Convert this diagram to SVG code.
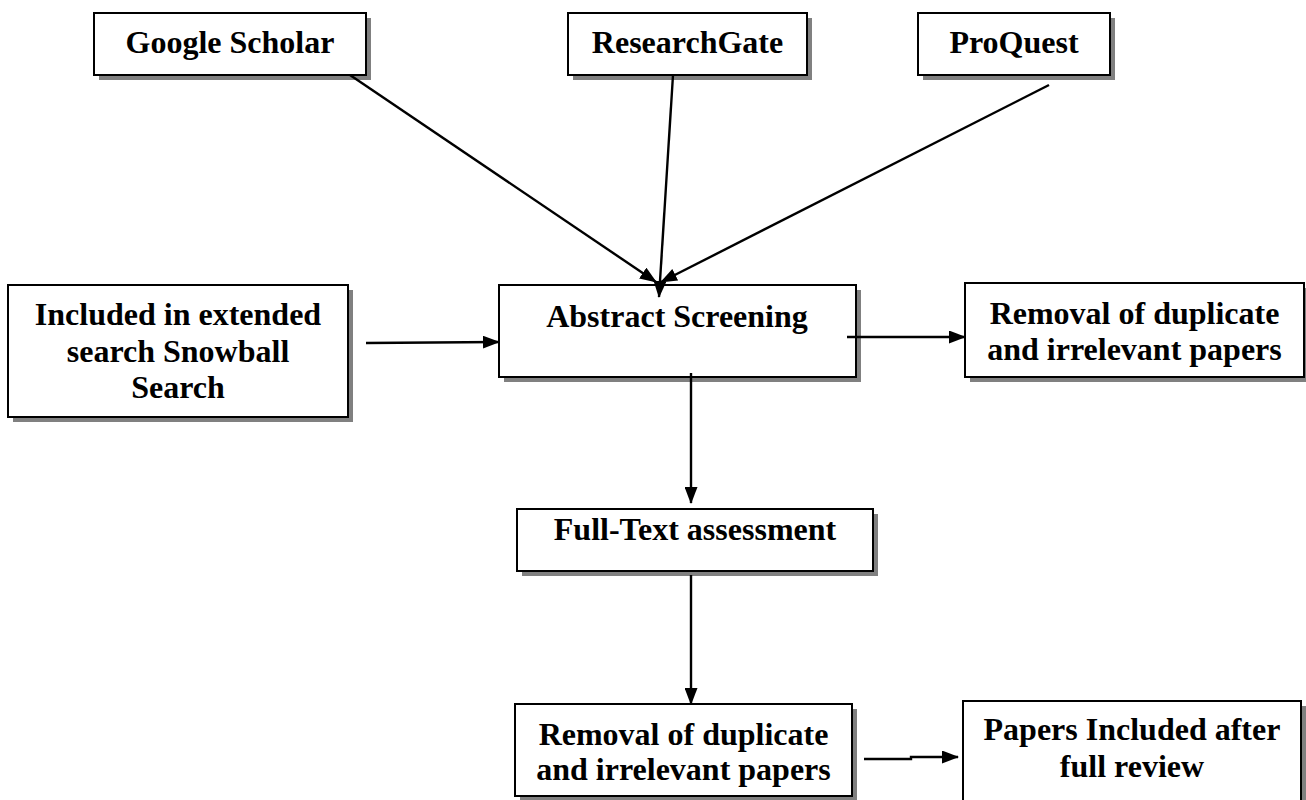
<svg xmlns="http://www.w3.org/2000/svg" width="1306" height="800" viewBox="0 0 1306 800">
<defs>
<style>
.box{fill:#fff;stroke:#000;stroke-width:2}
.sh{fill:#808080}
.t{font-family:"Liberation Serif","Times New Roman",serif;font-weight:bold;font-size:32px;fill:#000;text-anchor:middle}
.c{stroke:#000;stroke-width:2.4;fill:none}
</style>
<marker id="ah" markerUnits="userSpaceOnUse" markerWidth="17" markerHeight="13" refX="16" refY="6.5" orient="auto">
<path d="M0,0 L17,6.5 L0,13 z" fill="#000"/>
</marker>
</defs>
<rect width="1306" height="800" fill="#fff"/>

<g id="google-scholar">
<rect class="sh" x="99" y="18" width="272" height="62"/>
<rect class="box" x="94" y="13" width="272" height="62"/>
<text class="t" x="230" y="53">Google Scholar</text>
</g>
<g id="researchgate">
<rect class="sh" x="573" y="18" width="239" height="62"/>
<rect class="box" x="568" y="13" width="239" height="62"/>
<text class="t" x="687.5" y="53">ResearchGate</text>
</g>
<g id="proquest">
<rect class="sh" x="923" y="18" width="192" height="62"/>
<rect class="box" x="918" y="13" width="192" height="62"/>
<text class="t" x="1014" y="53">ProQuest</text>
</g>
<g id="snowball">
<rect class="sh" x="13" y="290" width="340" height="132"/>
<rect class="box" x="8" y="285" width="340" height="132"/>
<text class="t" x="178" y="325">Included in extended</text>
<text class="t" x="178" y="362">search Snowball</text>
<text class="t" x="178" y="398">Search</text>
</g>
<g id="abstract-screening">
<rect class="sh" x="504" y="290" width="357" height="92"/>
<rect class="box" x="499" y="285" width="357" height="92"/>
<text class="t" x="677" y="327">Abstract Screening</text>
</g>
<g id="removal-1">
<rect class="sh" x="970" y="288" width="339" height="94"/>
<rect class="box" x="965" y="283" width="339" height="94"/>
<text class="t" x="1134.5" y="324">Removal of duplicate</text>
<text class="t" x="1134.5" y="360">and irrelevant papers</text>
</g>
<g id="full-text">
<rect class="sh" x="522" y="514" width="356" height="62"/>
<rect class="box" x="517" y="509" width="356" height="62"/>
<text class="t" x="695" y="540">Full-Text assessment</text>
</g>
<g id="removal-2">
<rect class="sh" x="520" y="709" width="337" height="92"/>
<rect class="box" x="515" y="704" width="337" height="92"/>
<text class="t" x="683.5" y="745">Removal of duplicate</text>
<text class="t" x="683.5" y="780">and irrelevant papers</text>
</g>
<g id="papers-included">
<rect class="sh" x="968" y="706" width="338" height="110"/>
<rect class="box" x="963" y="701" width="338" height="110"/>
<text class="t" x="1132" y="740">Papers Included after</text>
<text class="t" x="1132" y="777">full review</text>
</g>

<g id="connectors">
<line class="c" x1="350" y1="75" x2="656" y2="282" marker-end="url(#ah)"/>
<line class="c" x1="673" y1="75" x2="659" y2="297" marker-end="url(#ah)"/>
<line class="c" x1="1049" y1="85" x2="661" y2="282" marker-end="url(#ah)"/>
<line class="c" x1="366" y1="343" x2="499" y2="342" marker-end="url(#ah)"/>
<line class="c" x1="847" y1="337" x2="965" y2="337" marker-end="url(#ah)"/>
<line class="c" x1="691" y1="373" x2="691" y2="503" marker-end="url(#ah)"/>
<line class="c" x1="691" y1="575" x2="691" y2="704" marker-end="url(#ah)"/>
<polyline class="c" points="864,759 911,759 911,757 958,757" marker-end="url(#ah)"/>
</g>
</svg>
